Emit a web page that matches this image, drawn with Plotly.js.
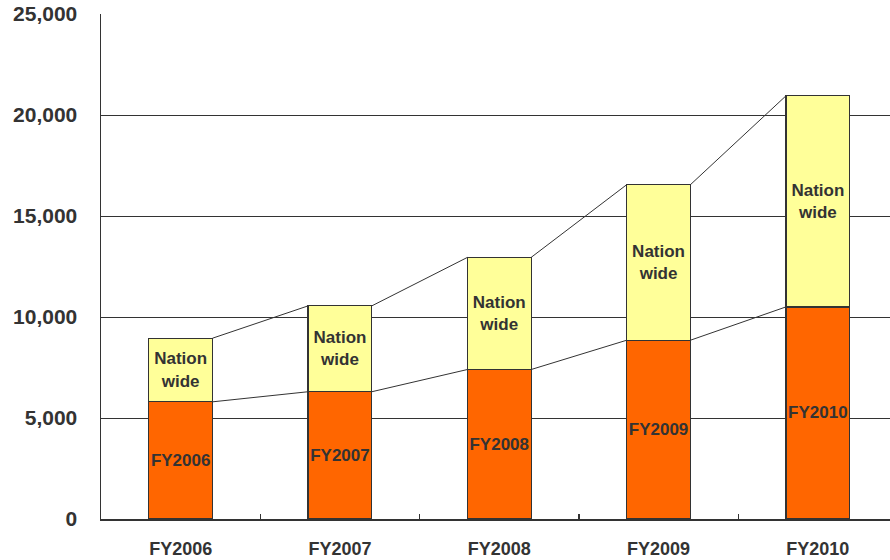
<!DOCTYPE html>
<html><head><meta charset="utf-8">
<script src="https://cdn.plot.ly/plotly-3.0.1.min.js"></script>
<style>html,body{margin:0;padding:0;background:#fff}#chart{width:890px;height:560px}</style>
</head><body><div id="chart"></div>
<script>
var categories = ["FY2006", "FY2007", "FY2008", "FY2009", "FY2010"];
var localValues = [5800, 6300, 7400, 8850, 10500];
var nationValues = [3150, 4250, 5550, 7700, 10450];
var yTickVals = [0, 5000, 10000, 15000, 20000, 25000];
var yTickText = ["0", "5,000", "10,000", "15,000", "20,000", "25,000"];

var xs = categories.map(function(c, i){ return i; });
var totals = localValues.map(function(v, i){ return v + nationValues[i]; });
var half = 0.2;
var fontFam = "Liberation Sans, Arial, sans-serif";
var dark = "#333333";

var lx = [], ly = [], tx = [], ty = [];
for (var i = 0; i < xs.length - 1; i++) {
  lx.push(xs[i] + half, xs[i+1] - half, null);
  ly.push(localValues[i], localValues[i+1], null);
  tx.push(xs[i] + half, xs[i+1] - half, null);
  ty.push(totals[i], totals[i+1], null);
}

var traces = [
  {type: "bar", x: xs, y: localValues, width: 2*half,
   marker: {color: "#FF6600", line: {color: dark, width: 1.2}},
   text: categories, textposition: "inside", insidetextanchor: "middle", textangle: 0,
   constraintext: "none",
   textfont: {family: fontFam, size: 17, color: dark, weight: "bold"},
   hoverinfo: "none"},
  {type: "bar", x: xs, y: nationValues, width: 2*half,
   marker: {color: "#FFFF99", line: {color: dark, width: 1.2}},
   text: categories.map(function(){ return "Nation<br>wide"; }), textposition: "inside", insidetextanchor: "middle", textangle: 0,
   constraintext: "none",
   textfont: {family: fontFam, size: 17, color: dark, weight: "bold"},
   hoverinfo: "none"},
  {type: "scatter", mode: "lines", x: lx, y: ly, line: {color: dark, width: 1}, hoverinfo: "none", connectgaps: false},
  {type: "scatter", mode: "lines", x: tx, y: ty, line: {color: dark, width: 1}, hoverinfo: "none", connectgaps: false},
  {type: "scatter", mode: "markers", x: [0.5], y: [0], xaxis: "x2", marker: {opacity: 0}, hoverinfo: "none"}
];

var xr = [-0.5, -0.5 + 789/159.3];
var layout = {
  width: 890, height: 560,
  margin: {l: 101, r: 0, t: 14, b: 41},
  barmode: "stack", showlegend: false,
  paper_bgcolor: "#fff", plot_bgcolor: "#fff",
  xaxis: {range: xr, tickmode: "array", tickvals: xs, ticktext: categories,
          ticks: "", showgrid: false, zeroline: false,
          showline: true, linecolor: dark, linewidth: 1.5,
          ticklabelstandoff: 13,
          tickfont: {family: fontFam, size: 18, color: dark, weight: "bold"}},
  xaxis2: {range: xr, overlaying: "x", side: "bottom", tickmode: "array",
           tickvals: [0.5, 1.5, 2.5, 3.5, 4.5], ticks: "inside", ticklen: 5, tickwidth: 1.2, tickcolor: dark,
           showticklabels: false, showgrid: false, zeroline: false, showline: false},
  yaxis: {range: [0, 25000], tickmode: "array", tickvals: yTickVals, ticktext: yTickText,
          showgrid: true, gridcolor: dark, gridwidth: 1, zeroline: false,
          showline: true, linecolor: dark, linewidth: 1.5, ticks: "",
          ticklabelstandoff: 18,
          tickfont: {family: fontFam, size: 21, color: dark, weight: "bold"}}
};
Plotly.newPlot("chart", traces, layout, {staticPlot: true});
</script></body></html>
